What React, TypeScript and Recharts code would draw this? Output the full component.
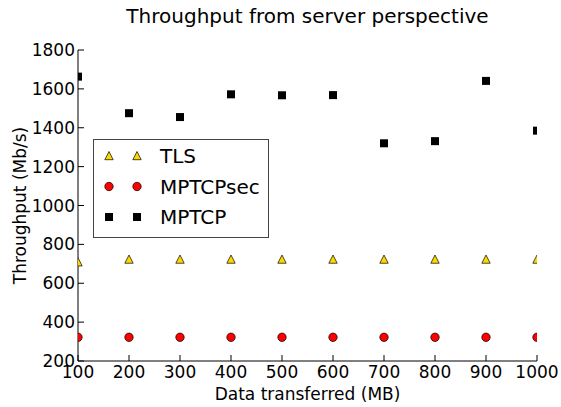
import React from 'react';
import { ScatterChart, Scatter, XAxis, YAxis, Legend } from 'recharts';

const dataSizes = [100, 200, 300, 400, 500, 600, 700, 800, 900, 1000];
const tlsThroughput = [708, 722, 722, 722, 722, 722, 722, 722, 722, 722];
const mptcpsecThroughput = [322, 322, 322, 322, 322, 322, 322, 322, 322, 322];
const mptcpThroughput = [1663, 1475, 1455, 1572, 1567, 1568, 1320, 1331, 1641, 1385];
const seriesNames = ['TLS', 'MPTCPsec', 'MPTCP'];
const xTicks = [100, 200, 300, 400, 500, 600, 700, 800, 900, 1000];
const yTicks = [200, 400, 600, 800, 1000, 1200, 1400, 1600, 1800];

const FONT = '"DejaVu Sans", sans-serif';

const toPoints = (vals: number[]) => dataSizes.map((size, i) => ({ size, value: vals[i] }));

const tlsData = toPoints(tlsThroughput);
const secData = toPoints(mptcpsecThroughput);
const mptcpData = toPoints(mptcpThroughput);

const drawTriangle = (cx: number, cy: number) => (
  <polygon
    points={`${cx},${cy - 4.5} ${cx - 4.2},${cy + 3.7} ${cx + 4.2},${cy + 3.7}`}
    fill="#ffd700"
    stroke="#000"
    strokeWidth={0.7}
  />
);
const drawCircle = (cx: number, cy: number) => (
  <circle cx={cx} cy={cy} r={4.2} fill="#ff0000" stroke="#000" strokeWidth={0.7} />
);
const drawSquare = (cx: number, cy: number) => (
  <rect x={cx - 4} y={cy - 4} width={8} height={8} fill="#000" />
);

const markers: Record<string, (cx: number, cy: number) => React.ReactElement> = {
  TLS: drawTriangle,
  MPTCPsec: drawCircle,
  MPTCP: drawSquare,
};

const TriangleShape = (p: any) => drawTriangle(p.cx, p.cy);
const CircleShape = (p: any) => drawCircle(p.cx, p.cy);
const SquareShape = (p: any) => drawSquare(p.cx, p.cy);

// ticks point inward, matplotlib classic style
const LeftTick = ({ x, y, payload }: any) => (
  <g>
    <line x1={x} x2={x + 6} y1={y} y2={y} stroke="#000" />
    <text x={x - 3} y={y + 6} textAnchor="end" fontSize={17} fontFamily={FONT} fill="#000">
      {payload.value}
    </text>
  </g>
);
const RightTick = ({ x, y }: any) => <line x1={x} x2={x - 6} y1={y} y2={y} stroke="#000" />;
const BottomTick = ({ x, y, payload }: any) => (
  <g>
    <line x1={x} x2={x} y1={y} y2={y - 6} stroke="#000" />
    <text x={x} y={y + 17} textAnchor="middle" fontSize={17} fontFamily={FONT} fill="#000">
      {payload.value}
    </text>
  </g>
);
const TopTick = ({ x, y }: any) => <line x1={x} x2={x} y1={y} y2={y + 6} stroke="#000" />;

const LegendBox = (props: any) => {
  const names: string[] = (props.payload || []).map((p: any) => p.value);
  const items = seriesNames.filter((n) => names.includes(n));
  return (
    <svg width={176} height={99} style={{ display: 'block' }}>
      <rect x={0.5} y={0.5} width={175} height={98} fill="#fff" stroke="#444" strokeWidth={1} />
      {items.map((name, i) => {
        const cy = 17 + i * 30.5;
        const draw = markers[name];
        return (
          <g key={name}>
            {draw(16, cy)}
            {draw(44, cy)}
            <text x={67} y={cy + 7} fontSize={20} fontFamily={FONT} fill="#000">
              {name}
            </text>
          </g>
        );
      })}
    </svg>
  );
};

export default function App() {
  return (
    <div style={{ position: 'absolute', left: 0, top: 0, width: 561, height: 407, background: '#fff' }}>
      <ScatterChart width={561} height={407} margin={{ top: 50, right: 24, bottom: 16, left: 8 }}>
        <XAxis
          xAxisId={0}
          dataKey="size"
          type="number"
          domain={[100, 1000]}
          ticks={xTicks}
          allowDataOverflow
          height={30}
          tickLine={false}
          tickSize={0}
          tickMargin={0}
          tick={<BottomTick />}
          axisLine={{ stroke: '#000' }}
        />
        <XAxis
          xAxisId="top"
          orientation="top"
          type="number"
          domain={[100, 1000]}
          ticks={xTicks}
          height={0}
          tickLine={false}
          tickSize={0}
          tickMargin={0}
          tick={<TopTick />}
          axisLine={{ stroke: '#000' }}
        />
        <YAxis
          yAxisId={0}
          dataKey="value"
          type="number"
          domain={[200, 1800]}
          ticks={yTicks}
          allowDataOverflow
          width={70}
          tickLine={false}
          tickSize={0}
          tickMargin={0}
          tick={<LeftTick />}
          axisLine={{ stroke: '#000' }}
        />
        <YAxis
          yAxisId="right"
          orientation="right"
          type="number"
          domain={[200, 1800]}
          ticks={yTicks}
          width={0}
          tickLine={false}
          tickSize={0}
          tickMargin={0}
          tick={<RightTick />}
          axisLine={{ stroke: '#000' }}
        />
        <Legend
          layout="vertical"
          align="center"
          verticalAlign="middle"
          wrapperStyle={{ left: 93, top: 139, width: 176, height: 99 }}
          content={<LegendBox />}
        />
        <Scatter name={seriesNames[0]} data={tlsData} fill="#ffd700" shape={TriangleShape} isAnimationActive={false} />
        <Scatter name={seriesNames[1]} data={secData} fill="#ff0000" shape={CircleShape} isAnimationActive={false} />
        <Scatter name={seriesNames[2]} data={mptcpData} fill="#000" shape={SquareShape} isAnimationActive={false} />
      </ScatterChart>
      <svg
        width={561}
        height={407}
        style={{ position: 'absolute', left: 0, top: 0, pointerEvents: 'none' }}
      >
        <text x={307.5} y={23} textAnchor="middle" fontSize={20} fontFamily={FONT} fill="#000">
          Throughput from server perspective
        </text>
        <text x={307.5} y={400} textAnchor="middle" fontSize={17} fontFamily={FONT} fill="#000">
          Data transferred (MB)
        </text>
        <text
          x={26}
          y={205.5}
          transform="rotate(-90, 26, 205.5)"
          textAnchor="middle"
          fontSize={17}
          fontFamily={FONT}
          fill="#000"
        >
          Throughput (Mb/s)
        </text>
      </svg>
    </div>
  );
}
